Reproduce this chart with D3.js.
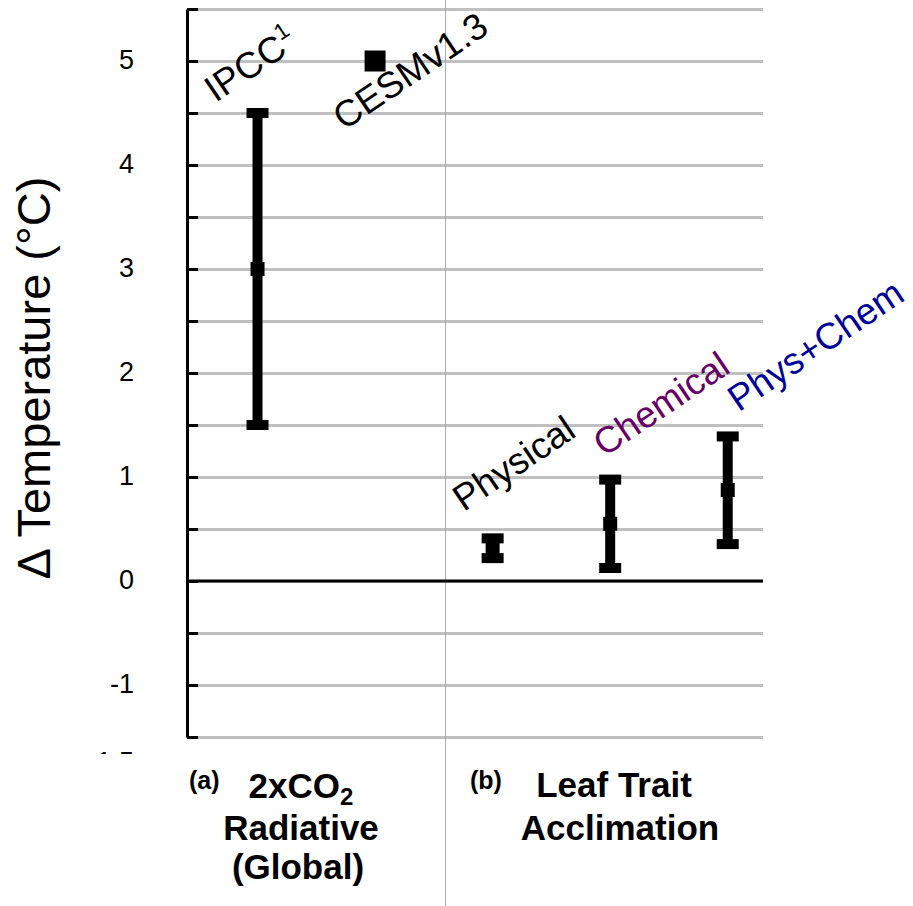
<!DOCTYPE html>
<meta charset="utf-8">
<style type="text/css">
    body { margin: 0; background: white; }
    svg text { font-family: "Liberation Sans", Arial, sans-serif; }
    .grid line { stroke: #c0c0c0; stroke-width: 3; }
    .grid .domain { display: none; }
</style>
<body>
<script src="https://cdn.jsdelivr.net/npm/d3@7"></script>
<script>
    // data
    var categories = ["IPCC", "CESMv1.3", "Physical", "Chemical", "Phys+Chem"];
    var xPos    = [1, 2, 3, 4, 5];
    var midVals = [3, 5, 0.32, 0.55, 0.875];
    var lowVals = [1.5, null, 0.22, 0.125, 0.355];
    var highVals = [4.5, null, 0.41, 0.975, 1.39];
    var labelColors = ["black", "black", "black", "#660066", "#000099"];
    var yTicks = [-1.5, -1, 0, 1, 2, 3, 4, 5];

    var w = 913, h = 906;
    var plotLeft = 187, plotRight = 763, plotTop = 9, plotBottom = 737;

    var svg = d3.select("body").append("svg")
        .attr("width", w)
        .attr("height", h);

    var x = d3.scaleLinear().domain([0.4, 5.3]).range([plotLeft, plotRight]);
    var y = d3.scaleLinear().domain([-1.5, 5.5]).range([plotBottom, plotTop]);

    // grid lines every 0.5
    var halfSteps = d3.range(-1.5, 5.51, 0.5);
    svg.append("g")
        .attr("class", "grid")
        .attr("transform", "translate(" + plotLeft + ",0)")
        .call(d3.axisRight(y).tickValues(halfSteps).tickSize(plotRight - plotLeft).tickFormat(""));

    // divider between (a) and (b)
    svg.append("line")
        .attr("x1", x(2.6)).attr("x2", x(2.6))
        .attr("y1", 0).attr("y2", h)
        .attr("stroke", "#a6a6a6").attr("stroke-width", 1);

    // zero line
    svg.append("line")
        .attr("x1", plotLeft).attr("x2", plotRight)
        .attr("y1", y(0)).attr("y2", y(0))
        .attr("stroke", "black").attr("stroke-width", 3);

    // y axis with inside ticks
    var yAxis = svg.append("g")
        .attr("transform", "translate(" + plotLeft + ",0)")
        .call(d3.axisRight(y).tickValues(halfSteps).tickSize(11).tickSizeOuter(0).tickFormat(""));
    yAxis.selectAll("line").attr("stroke", "black").attr("stroke-width", 3);
    yAxis.select(".domain").attr("stroke", "black").attr("stroke-width", 3);

    // tick labels
    var yLab = svg.append("g")
        .attr("transform", "translate(134,0)")
        .call(d3.axisLeft(y).tickValues(yTicks).tickSize(0).tickPadding(0)
            .tickFormat(function(d) { return String(d); }));
    yLab.select(".domain").remove();
    yLab.attr("font-size", 27).attr("font-family", "Liberation Sans, Arial, sans-serif");
    yLab.selectAll("text")
        .attr("fill", "black")
        .attr("dy", function(d) { return d === -1.5 ? "1.25em" : "0.27em"; });

    // the bottom label is cut off in the picture
    svg.append("defs").append("clipPath").attr("id", "cut")
        .append("rect").attr("x", -200).attr("y", 0).attr("width", w).attr("height", 754);
    yLab.attr("clip-path", "url(#cut)");

    // axis title
    svg.append("text")
        .attr("transform", "translate(50,378) rotate(-90)")
        .attr("text-anchor", "middle")
        .attr("font-size", 47)
        .text("\u0394 Temperature (\u00b0C)");

    // error bars
    var idx = d3.range(categories.length);
    var bars = idx.filter(function(i) { return lowVals[i] !== null; });

    svg.selectAll(".stem").data(bars).enter().append("line")
        .attr("x1", function(i) { return x(xPos[i]); })
        .attr("x2", function(i) { return x(xPos[i]); })
        .attr("y1", function(i) { return y(lowVals[i]); })
        .attr("y2", function(i) { return y(highVals[i]); })
        .attr("stroke", "black").attr("stroke-width", 10);

    var caps = [];
    bars.forEach(function(i) { caps.push([i, lowVals[i]]); caps.push([i, highVals[i]]); });
    svg.selectAll(".cap").data(caps).enter().append("rect")
        .attr("x", function(d) { return x(xPos[d[0]]) - 11; })
        .attr("y", function(d) { return y(d[1]) - 5; })
        .attr("width", 22).attr("height", 10)
        .attr("fill", "black");

    svg.selectAll(".mark").data(bars).enter().append("rect")
        .attr("x", function(i) { return x(xPos[i]) - 7; })
        .attr("y", function(i) { return y(midVals[i]) - 7; })
        .attr("width", 14).attr("height", 14)
        .attr("fill", "black");

    // single point (CESM)
    var points = idx.filter(function(i) { return lowVals[i] === null; });
    svg.selectAll(".pt").data(points).enter().append("rect")
        .attr("x", function(i) { return x(xPos[i]) - 10.5; })
        .attr("y", function(i) { return y(midVals[i]) - 10.5; })
        .attr("width", 21).attr("height", 21)
        .attr("fill", "black");

    // rotated labels, offsets in px from each marker's top
    var labelOffsets = [[-42, -10], [-31, 70], [-29, -26], [-6, -22], [11, -24]];
    var labels = svg.selectAll(".lab").data(idx).enter().append("text")
        .attr("transform", function(i) {
            var topVal = highVals[i] !== null ? highVals[i] : midVals[i];
            return "translate(" + (x(xPos[i]) + labelOffsets[i][0]) + "," + (y(topVal) + labelOffsets[i][1]) + ") rotate(-34)";
        })
        .attr("font-size", 37)
        .attr("fill", function(i) { return labelColors[i]; });
    labels.append("tspan").text(function(i) { return categories[i]; });
    labels.filter(function(i) { return i === 0; })
        .append("tspan").attr("font-size", 23).attr("dy", -15).text("1");

    // group labels under the plot
    svg.append("text").attr("x", 189).attr("y", 789)
        .attr("font-size", 25).attr("font-weight", "bold").text("(a)");
    var a1 = svg.append("text").attr("x", 301).attr("y", 798)
        .attr("text-anchor", "middle").attr("font-size", 35).attr("font-weight", "bold");
    a1.append("tspan").text("2xCO");
    a1.append("tspan").attr("font-size", 24).attr("dy", 7).text("2");
    svg.append("text").attr("x", 301).attr("y", 840)
        .attr("text-anchor", "middle").attr("font-size", 35).attr("font-weight", "bold").text("Radiative");
    svg.append("text").attr("x", 298).attr("y", 879)
        .attr("text-anchor", "middle").attr("font-size", 35).attr("font-weight", "bold").text("(Global)");

    svg.append("text").attr("x", 470).attr("y", 789)
        .attr("font-size", 25).attr("font-weight", "bold").text("(b)");
    svg.append("text").attr("x", 614).attr("y", 797)
        .attr("text-anchor", "middle").attr("font-size", 35).attr("font-weight", "bold").text("Leaf Trait");
    svg.append("text").attr("x", 620).attr("y", 840)
        .attr("text-anchor", "middle").attr("font-size", 35).attr("font-weight", "bold").text("Acclimation");
</script>
</body>
